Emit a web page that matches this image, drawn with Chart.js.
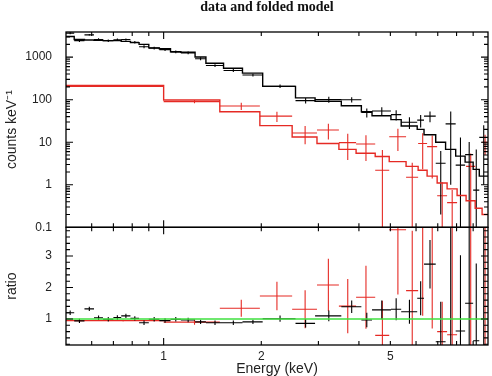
<!DOCTYPE html>
<html>
<head>
<meta charset="utf-8">
<script src="https://cdn.jsdelivr.net/npm/chart.js@4.4.1/dist/chart.umd.min.js"></script>
<style>
  html, body { margin: 0; padding: 0; background: #fff; }
  #wrap { position: relative; width: 492px; height: 376px; }
  #wrap canvas { position: absolute; left: 0; top: 0; }
</style>
</head>
<body>
<div id="wrap">
  <canvas id="countsChart" width="492" height="376"></canvas>
  <canvas id="ratioChart" width="492" height="376"></canvas>
</div>
<script>
// black spectrum: bin edges (keV), data, errors, folded model, ratio
var blackEdges = [0.50, 0.53, 0.57, 0.61, 0.65, 0.70, 0.74, 0.79, 0.84, 0.90, 0.97, 1.05, 1.13, 1.25, 1.35, 1.53, 1.75,
    2.02, 2.55, 2.93, 3.53, 4.07, 4.39, 5.02, 5.40, 6.05, 6.35, 6.90, 7.40, 7.95, 8.50, 9.00, 9.40, 10.0];
var blackCounts = [3660, 2440, 3340, 2600, 2430, 2570, 2590, 2240, 1760, 1630, 1500, 1330, 1260, 920, 635, 485, 380,
    207, 95, 101, 100, 50, 54, 44.5, 29.5, 33, 41, 3.2, 27, 2.9, 5.1, 0.75, 13];
var blackCountsErr = [215, 180, 175, 175, 170, 170, 165, 155, 140, 115, 110, 95, 90, 70, 50, 38, 29,
    20, 14, 16, 14, 12, 12.6, 12, 9, 10.8, 11.5, 3.0, 26, 10, 5, 6, 12];
var blackModel = [3050, 2600, 2530, 2500, 2450, 2450, 2350, 2200, 2000, 1650, 1580, 1340, 1300, 1010, 720, 550, 420,
    205, 110, 92, 72, 52, 42, 34, 24, 20, 15, 10, 6.8, 4.7, 3.4, 2.3, 1.6];
var blackRatio = [1.20, 0.94, 1.32, 1.04, 0.99, 1.05, 1.10, 1.02, 0.88, 0.99, 0.95, 0.99, 0.97, 0.91, 0.88, 0.88, 0.91,
    1.01, 0.86, 1.10, 1.39, 0.97, 1.29, 1.31, 1.23, 1.66, 2.74, 0.28, 4.0, 0.62, 1.50, 0.31, 8.0];
var blackRatioErr = [0.07, 0.07, 0.07, 0.07, 0.07, 0.07, 0.07, 0.07, 0.07, 0.07, 0.07, 0.07, 0.07, 0.07, 0.07, 0.07, 0.07,
    0.10, 0.13, 0.17, 0.20, 0.23, 0.30, 0.35, 0.38, 0.54, 0.77, 1.27, 3.9, 2.4, 3.0, 2.45, 7.9];

// red spectrum
var redEdges = [0.50, 1.00, 1.49, 1.98, 2.49, 2.97, 3.47, 3.92, 4.49, 4.96, 5.59, 6.09, 6.49, 6.97, 7.48, 8.03, 8.56, 9.13, 9.59, 10.0];
var redCounts = [205, 90, 71, 41, 16.5, 19.3, 9.8, 9.1, 2.2, 13.4, 1.5, 9.3, 7.9, 0.55, 0.38, null, 2.7, null, 10];
var redCountsErr = [6, 8, 14, 11, 7.5, 7.7, 6, 5.5, 4.4, 7.2, 1.8, 7, 6.5, 0.6, 0.37, null, 2.7, null, 5];
var redModel = [215, 98, 52, 24.5, 13.3, 9.3, 6.8, 5.5, 4.6, 3.5, 2.7, 2.2, 1.6, 1.1, 0.8, 0.56, 0.42, 0.28, 0.2];
var redRatio = [0.95, 0.90, 1.34, 1.73, 1.31, 2.08, 1.41, 1.69, 0.48, 3.83, 1.9, 4.6, 5.1, 0.6, 0.5, null, 6.4, null, 50];
var redRatioErr = [0.03, 0.08, 0.27, 0.45, 0.60, 0.83, 0.86, 1.0, 1.1, 2.05, 1.9, 3.5, 4.4, 0.95, 3.5, null, 6.3, null, 49.9];

// axes
var energyRange = [0.5, 10];
var countsRange = [0.1, 3900];
var ratioRange = [0.175, 3.91];
var energyTicks = [1, 2, 5];
var countsTicks = [0.1, 1, 10, 100, 1000];
var ratioTicks = [1, 2, 3];

var BLACK = '#000000';
var RED = '#e52a24';
var GREEN = '#3fe03f';

function crossPoints(edges, vals, errs, floor) {
    var pts = [];
    for (var i = 0; i < vals.length; i++) {
        if (vals[i] === null) continue;
        var lo = edges[i], hi = edges[i + 1], c = (lo + hi) / 2;
        var yl = vals[i] - errs[i];
        if (yl < floor) yl = floor;
        pts.push({x: lo, y: vals[i]}, {x: hi, y: vals[i]}, {x: hi, y: null});
        pts.push({x: c, y: yl}, {x: c, y: vals[i] + errs[i]}, {x: c, y: null});
    }
    return pts;
}

function stepPoints(edges, vals) {
    var pts = vals.map(function (v, i) { return {x: edges[i], y: v}; });
    pts.push({x: edges[edges.length - 1], y: vals[vals.length - 1]});
    return pts;
}

function logTicks(lo, hi, major) {
    var out = [];
    for (var e = Math.floor(Math.log10(lo)) - 1; e <= Math.ceil(Math.log10(hi)); e++) {
        for (var k = major ? 1 : 2; k <= (major ? 1 : 9); k++) {
            var v = k * Math.pow(10, e);
            if (v > lo * 1.0001 && v < hi * 0.9999) out.push(v);
        }
    }
    return out;
}

function linTicks(lo, hi, step, skipEvery) {
    var out = [];
    for (var i = Math.ceil(lo / step); i * step < hi; i++) {
        if (i % skipEvery !== 0) out.push(i * step);
    }
    return out;
}

var frameTicks = {
    id: 'frameTicks',
    afterDatasetsDraw: function (chart, args, opts) {
        var ctx = chart.ctx, a = chart.chartArea;
        var xs = chart.scales.x, ys = chart.scales.y;
        ctx.save();
        ctx.strokeStyle = BLACK;
        ctx.lineWidth = 1.1;
        ctx.beginPath();
        function xt(list, len) {
            list.forEach(function (v) {
                var p = xs.getPixelForValue(v);
                ctx.moveTo(p, a.bottom); ctx.lineTo(p, a.bottom - len);
                ctx.moveTo(p, a.top); ctx.lineTo(p, a.top + len);
            });
        }
        function yt(list, len) {
            list.forEach(function (v) {
                var p = ys.getPixelForValue(v);
                ctx.moveTo(a.left, p); ctx.lineTo(a.left + len, p);
                ctx.moveTo(a.right, p); ctx.lineTo(a.right - len, p);
            });
        }
        xt(opts.xMajor, 7); xt(opts.xMinor, 4);
        yt(opts.yMajor, 7); yt(opts.yMinor, 4);
        ctx.stroke();
        ctx.lineWidth = 1.3;
        ctx.strokeRect(a.left, a.top, a.right - a.left, a.bottom - a.top);
        ctx.restore();
    }
};

var titlePlugin = {
    id: 'plotTitle',
    afterDraw: function (chart) {
        var ctx = chart.ctx;
        ctx.save();
        ctx.font = 'bold 14px "Liberation Serif", "Times New Roman", serif';
        ctx.fillStyle = '#111';
        ctx.textAlign = 'center';
        ctx.textBaseline = 'alphabetic';
        ctx.fillText('data and folded model', 267, 11);
        ctx.restore();
    }
};

var tickFont = {family: '"Liberation Sans", Arial, sans-serif', size: 12};
var titleFont = {family: '"Liberation Sans", Arial, sans-serif', size: 14, lineHeight: 1};

function lineDs(data, color, width) {
    return {data: data, showLine: true, borderColor: color, backgroundColor: color,
        borderWidth: width, pointRadius: 0, spanGaps: false, stepped: false};
}

var countsChart = new Chart(document.getElementById('countsChart'), {
    type: 'scatter',
    data: {
        datasets: [
            Object.assign(lineDs(stepPoints(blackEdges, blackModel), BLACK, 1.4), {stepped: 'before'}),
            Object.assign(lineDs(stepPoints(redEdges, redModel), RED, 1.4), {stepped: 'before'}),
            lineDs(crossPoints(blackEdges, blackCounts, blackCountsErr, 0.01), BLACK, 1.1),
            lineDs(crossPoints(redEdges, redCounts, redCountsErr, 0.01), RED, 1.1)
        ]
    },
    options: {
        responsive: false,
        animation: false,
        layout: {padding: {top: 32, bottom: 148.7, left: 0, right: 4}},
        plugins: {
            legend: {display: false},
            tooltip: {enabled: false},
            frameTicks: {
                xMajor: logTicks(energyRange[0], energyRange[1], true),
                xMinor: logTicks(energyRange[0], energyRange[1], false),
                yMajor: logTicks(countsRange[0] / 2, countsRange[1], true).filter(function (v) { return v > countsRange[0]; }),
                yMinor: logTicks(countsRange[0], countsRange[1], false)
            }
        },
        scales: {
            x: {type: 'logarithmic', min: energyRange[0], max: energyRange[1], display: false},
            y: {
                type: 'logarithmic', min: countsRange[0], max: countsRange[1],
                afterFit: function (s) { s.width = 66; },
                afterBuildTicks: function (s) { s.ticks = countsTicks.map(function (v) { return {value: v}; }); },
                grid: {display: false, drawTicks: false},
                border: {display: false},
                ticks: {font: tickFont, color: '#222', padding: 14, callback: function (v) { return String(v); }},
                title: {display: true, text: 'counts keV\u207B\u00B9', font: titleFont, color: '#222', padding: 5}
            }
        }
    },
    plugins: [frameTicks, titlePlugin]
});

var ratioChart = new Chart(document.getElementById('ratioChart'), {
    type: 'scatter',
    data: {
        datasets: [
            lineDs([{x: energyRange[0], y: 1}, {x: energyRange[1], y: 1}], GREEN, 1.6),
            lineDs(crossPoints(blackEdges, blackRatio, blackRatioErr, -10), BLACK, 1.1),
            lineDs(crossPoints(redEdges, redRatio, redRatioErr, -10), RED, 1.1)
        ]
    },
    options: {
        responsive: false,
        animation: false,
        layout: {padding: {top: 227.3, bottom: 0, left: 0, right: 4}},
        plugins: {
            legend: {display: false},
            tooltip: {enabled: false},
            frameTicks: {
                xMajor: logTicks(energyRange[0], energyRange[1], true),
                xMinor: logTicks(energyRange[0], energyRange[1], false),
                yMajor: ratioTicks,
                yMinor: linTicks(ratioRange[0], ratioRange[1], 0.2, 5)
            }
        },
        scales: {
            x: {
                type: 'logarithmic', min: energyRange[0], max: energyRange[1],
                afterFit: function (s) { s.height = 31; },
                afterBuildTicks: function (s) { s.ticks = energyTicks.map(function (v) { return {value: v}; }); },
                grid: {display: false, drawTicks: false},
                border: {display: false},
                ticks: {font: tickFont, color: '#222', padding: 4, maxRotation: 0, callback: function (v) { return String(v); }},
                title: {display: true, text: 'Energy (keV)', font: titleFont, color: '#222', padding: 0}
            },
            y: {
                type: 'linear', min: ratioRange[0], max: ratioRange[1],
                afterFit: function (s) { s.width = 66; },
                afterBuildTicks: function (s) { s.ticks = ratioTicks.map(function (v) { return {value: v}; }); },
                grid: {display: false, drawTicks: false},
                border: {display: false},
                ticks: {font: tickFont, color: '#222', padding: 14, callback: function (v) { return String(v); }},
                title: {display: true, text: 'ratio', font: titleFont, color: '#222', padding: 5}
            }
        }
    },
    plugins: [frameTicks]
});
</script>
</body>
</html>
